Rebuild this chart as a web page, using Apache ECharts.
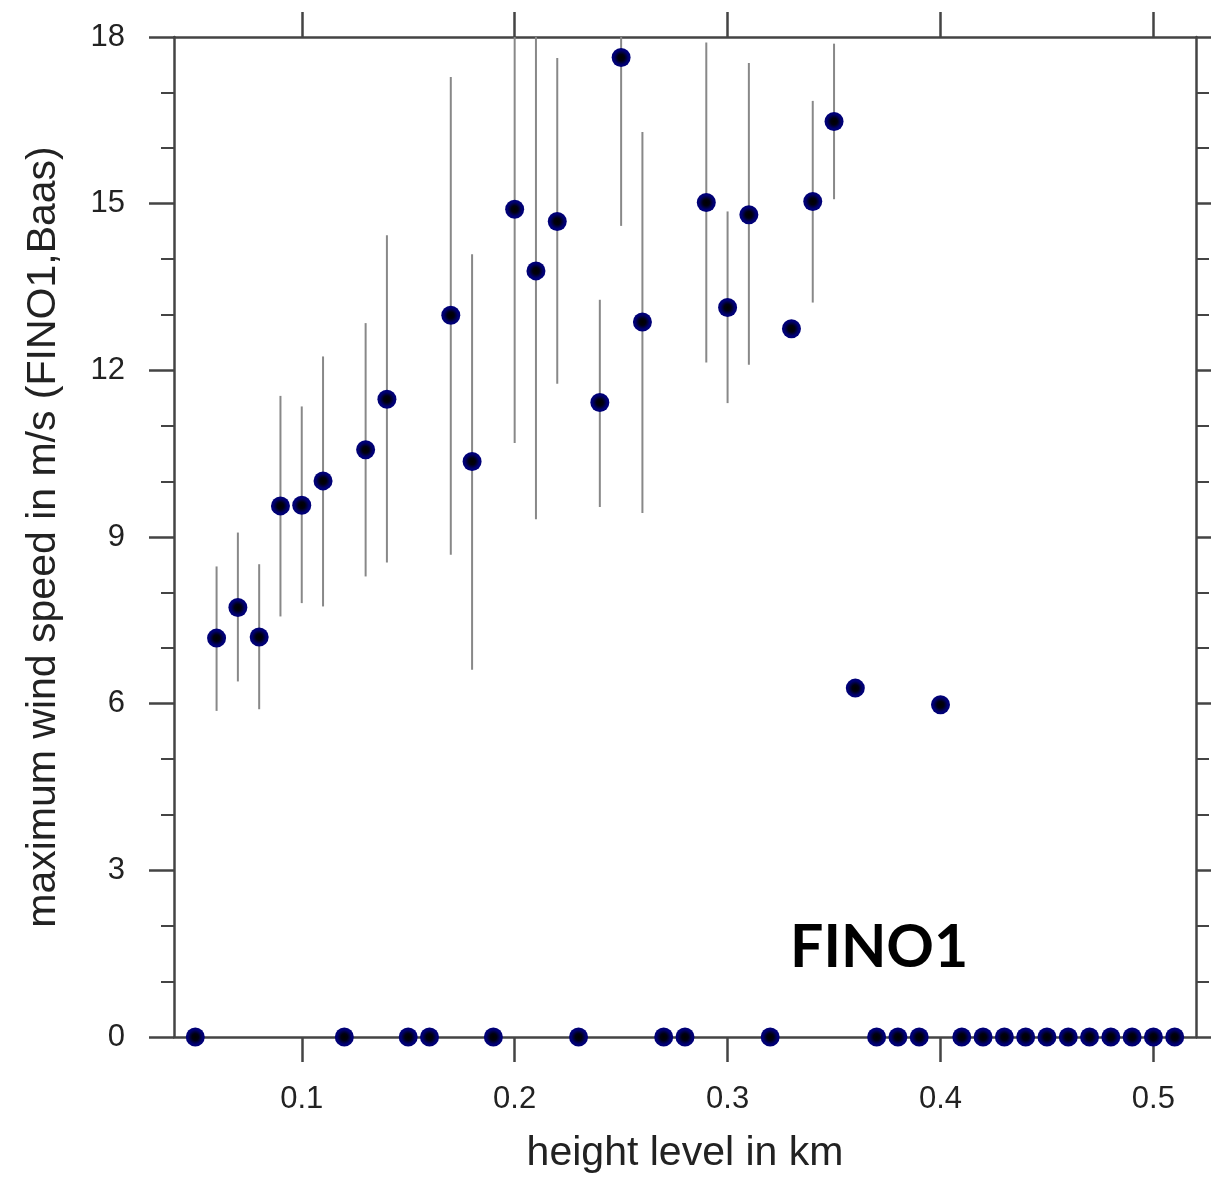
<!DOCTYPE html>
<html>
<head>
<meta charset="utf-8">
<script src="https://cdn.jsdelivr.net/npm/echarts@6/dist/echarts.min.js"></script>
<style>
  html, body { margin: 0; padding: 0; background: #fff; }
  #chart { width: 1211px; height: 1177px; }
</style>
</head>
<body>
<div id="chart"></div>
<script>
// height levels (km), one per row
const heights = [0.05, 0.06, 0.07, 0.08, 0.09, 0.10, 0.11, 0.12, 0.13, 0.14,
  0.15, 0.16, 0.17, 0.18, 0.19, 0.20, 0.21, 0.22, 0.23, 0.24,
  0.25, 0.26, 0.27, 0.28, 0.29, 0.30, 0.31, 0.32, 0.33, 0.34,
  0.35, 0.36, 0.37, 0.38, 0.39, 0.40, 0.41, 0.42, 0.43, 0.44,
  0.45, 0.46, 0.47, 0.48, 0.49, 0.50, 0.51];
// maximum wind speed (m/s)
const speeds = [0, 7.18, 7.73, 7.20, 9.56, 9.57, 10.01, 0, 10.57, 11.48,
  0, 0, 12.99, 10.36, 0, 14.90, 13.79, 14.68, 0, 11.42,
  17.63, 12.87, 0, 0, 15.02, 13.13, 14.80, 0, 12.75, 15.04,
  16.48, 6.28, 0, 0, 0, 5.98, 0, 0, 0, 0,
  0, 0, 0, 0, 0, 0, 0];
// error bar ends (null = no bar)
const errLow = [null, 5.87, 6.40, 5.90, 7.57, 7.81, 7.75, null, 8.29, 8.54,
  null, null, 8.68, 6.61, null, 10.69, 9.32, 11.76, null, 9.54,
  14.60, 9.43, null, null, 12.14, 11.41, 12.10, null, null, 13.22,
  15.08, null, null, null, null, null, null, null, null, null,
  null, null, null, null, null, null, null];
const errHigh = [null, 8.47, 9.08, 8.51, 11.54, 11.35, 12.25, null, 12.85, 14.43,
  null, null, 17.28, 14.09, null, 18.6, 18.6, 17.62, null, 13.27,
  18.6, 16.29, null, null, 17.90, 14.86, 17.53, null, null, 16.85,
  17.88, null, null, null, null, null, null, null, null, null,
  null, null, null, null, null, null, null];
const xTicks = [0.1, 0.2, 0.3, 0.4, 0.5];

const chart = echarts.init(document.getElementById('chart'));

const points = heights.map((h, i) => [h, speeds[i]]);
const bars = [];
heights.forEach((h, i) => {
  if (errLow[i] != null) bars.push([h, errLow[i], errHigh[i]]);
});

const font = "'Liberation Sans', Arial, Helvetica, sans-serif";
const lineCol = '#444';

const baseX = {
  type: 'value',
  min: 0.04,
  max: 0.52,
  splitLine: { show: false },
  axisLine: { show: true, onZero: false, lineStyle: { color: lineCol, width: 2.5 } },
  axisTick: { show: true, inside: false, length: 25, customValues: xTicks, lineStyle: { color: lineCol, width: 2.5 } }
};
const baseY = {
  type: 'value',
  min: 0,
  max: 18,
  interval: 3,
  splitLine: { show: false },
  axisLine: { show: true, onZero: false, lineStyle: { color: lineCol, width: 2.5 } },
  axisTick: { show: true, inside: false, length: 25, lineStyle: { color: lineCol, width: 2.5 } },
  minorTick: { show: true, splitNumber: 3, length: 13, lineStyle: { color: lineCol, width: 2 } }
};

chart.setOption({
  backgroundColor: '#fff',
  animation: false,
  title: {
    text: 'FINO1',
    left: 785,
    top: 913,
    textStyle: { fontFamily: 'Lato, sans-serif', fontWeight: 'bold', fontSize: 59, color: '#000' }
  },
  grid: { left: 174, right: 15, top: 37, bottom: 140, outerBoundsMode: 'none', containLabel: false },
  xAxis: [
    Object.assign({}, baseX, {
      position: 'bottom',
      name: 'height level in km',
      nameLocation: 'middle',
      nameGap: 96,
      nameTextStyle: { fontFamily: font, fontSize: 41, color: '#222' },
      axisLabel: {
        show: true, margin: 47, customValues: xTicks,
        fontFamily: font, fontSize: 31, color: '#222',
        formatter: v => v.toFixed(1)
      }
    }),
    Object.assign({}, baseX, { position: 'top', axisLabel: { show: false } })
  ],
  yAxis: [
    Object.assign({}, baseY, {
      position: 'left',
      name: 'maximum wind speed in m/s (FINO1,Baas)',
      nameLocation: 'middle',
      nameGap: 110,
      nameTextStyle: { fontFamily: font, fontSize: 41, color: '#222' },
      axisLabel: { show: true, margin: 49, fontFamily: font, fontSize: 31, color: '#222' }
    }),
    Object.assign({}, baseY, { position: 'right', axisLabel: { show: false } })
  ],
  series: [
    {
      type: 'custom',
      clip: true,
      z: 2,
      data: bars,
      renderItem(params, api) {
        const top = api.coord([api.value(0), api.value(2)]);
        const bot = api.coord([api.value(0), api.value(1)]);
        return {
          type: 'line',
          shape: { x1: top[0], y1: top[1], x2: bot[0], y2: bot[1] },
          style: { stroke: '#888', lineWidth: 2 }
        };
      }
    },
    {
      type: 'scatter',
      clip: false,
      z: 5,
      symbolSize: 19,
      data: points,
      itemStyle: {
        color: {
          type: 'radial', x: 0.5, y: 0.5, r: 0.5,
          colorStops: [
            { offset: 0, color: '#000000' },
            { offset: 0.35, color: '#000010' },
            { offset: 0.75, color: '#000070' },
            { offset: 1, color: '#00007a' }
          ]
        },
        opacity: 1
      }
    }
  ]
});
</script>
</body>
</html>
